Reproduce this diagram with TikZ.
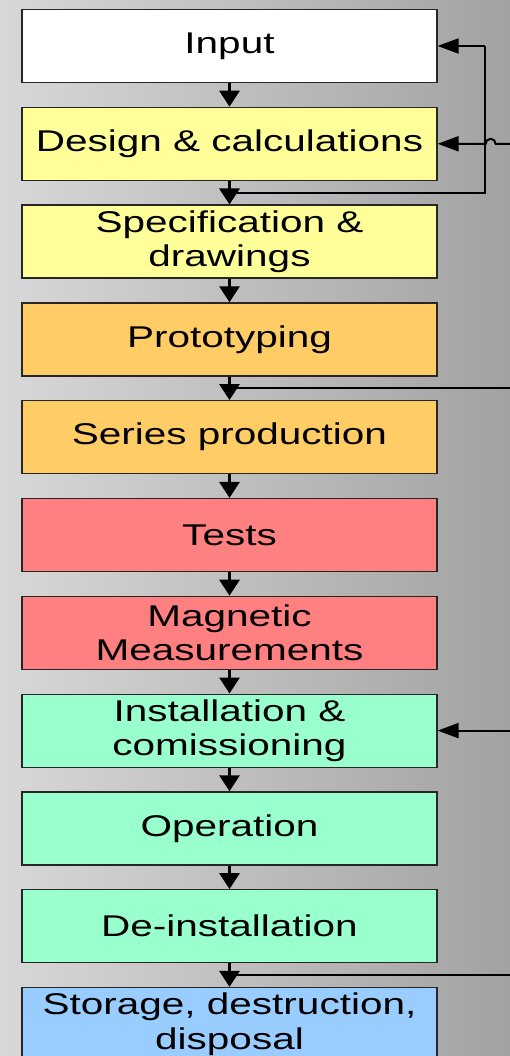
\documentclass[tikz,border=0pt]{standalone}
\usepackage{fontspec}
\setmainfont{Liberation Sans}[FakeStretch=1.35]
\usepackage{tikz}
\usetikzlibrary{positioning,arrows.meta,calc}

\definecolor{boxyellow}{HTML}{FFFF99}
\definecolor{boxorange}{HTML}{FFCC66}
\definecolor{boxred}{HTML}{FF8080}
\definecolor{boxgreen}{HTML}{99FFCC}
\definecolor{boxblue}{HTML}{99CCFF}
\definecolor{bgleft}{HTML}{D8D8D8}
\definecolor{bgright}{HTML}{A2A2A2}

\tikzset{
  box/.style={draw=black!85,line width=1.2pt,minimum width=415pt,minimum height=73pt,
    inner sep=0pt,align=center,font=\fontsize{30}{34.5}\selectfont},
  flow/.style={line width=3pt,-{Triangle[length=16pt,width=20pt]}},
  feed/.style={line width=2pt,-{Triangle[length=21pt,width=15pt]}},
  link/.style={line width=2pt}
}

\begin{document}
\begin{tikzpicture}[x=1pt,y=-1pt,node distance=23.6pt]
    \shade[left color=bgleft,right color=bgright] (0,0) rectangle (510,1056);
    \useasboundingbox (0,0) rectangle (510,1056);
    \coordinate (edge) at (510,0);
    % the chain of steps
    \node[box,fill=white] (input) at (229.5,46) {Input};
    \node[box,fill=boxyellow,below=of input] (design) {Design \& calculations};
    \node[box,fill=boxyellow,below=of design] (spec) {Specification \&\\drawings};
    \node[box,fill=boxorange,below=of spec] (proto) {Prototyping};
    \node[box,fill=boxorange,below=of proto] (series) {Series production};
    \node[box,fill=boxred,below=of series] (tests) {Tests};
    \node[box,fill=boxred,below=of tests] (magmeas) {Magnetic\\Measurements};
    \node[box,fill=boxgreen,below=of magmeas] (install) {Installation \&\\comissioning};
    \node[box,fill=boxgreen,below=of install] (operation) {Operation};
    \node[box,fill=boxgreen,below=of operation] (deinstall) {De-installation};
    \node[box,fill=boxblue,below=of deinstall] (storage) {Storage, destruction,\\disposal};
    \foreach \a/\b in {input/design,design/spec,spec/proto,proto/series,series/tests,
      tests/magmeas,magmeas/install,install/operation,operation/deinstall,deinstall/storage}
      \draw[flow] (\a.south) -- (\b.north);
    % loop back from the design step
    \coordinate (fb) at ($(design.south)!0.5!(spec.north)$);
    \coordinate (loopa) at (485,0 |- fb);
    \coordinate (loopb) at (485,0 |- input.east);
    \draw[link] (fb) -- (loopa) -- (loopb);
    \draw[feed] (loopb) -- (input.east);
    \draw[feed] (design.east -| edge) -- ($(design.east)+(58,0)$)
      arc[start angle=0,end angle=-180,radius=5] -- (design.east);
    % side inputs from the right
    \coordinate (join1) at ($(proto.south)!0.5!(series.north)$);
    \draw[link] (join1 -| edge) -- (join1);
    \draw[feed] (install.east -| edge) -- (install.east);
    \coordinate (join2) at ($(deinstall.south)!0.5!(storage.north)$);
    \draw[link] (join2 -| edge) -- (join2);
\end{tikzpicture}
\end{document}
